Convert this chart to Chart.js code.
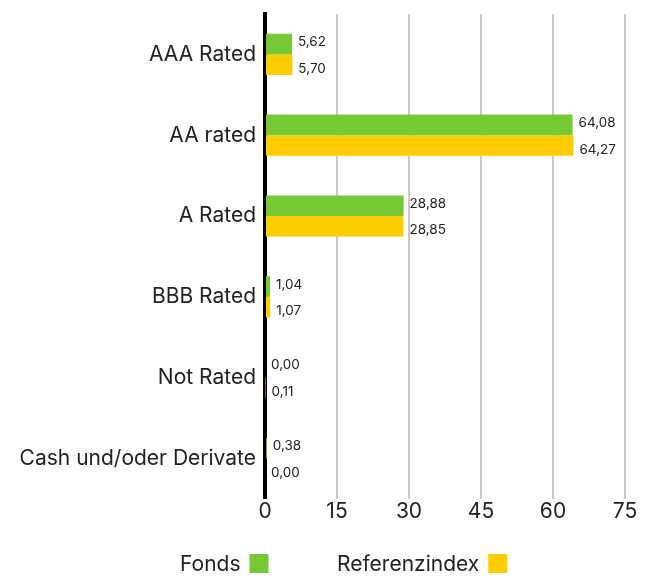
<!DOCTYPE html>
<html>
<head>
<meta charset="utf-8">
<script src="https://cdn.jsdelivr.net/npm/chart.js@4"></script>
<style>
  html, body { margin: 0; padding: 0; background: #fff; }
  #wrap { width: 651px; height: 576px; }
</style>
</head>
<body>
<div id="wrap"><canvas id="myChart"></canvas></div>
<script>
var categories = ["AAA Rated", "AA rated", "A Rated", "BBB Rated", "Not Rated", "Cash und/oder Derivate"];
var fonds = [5.62, 64.08, 28.88, 1.04, 0.00, 0.38];
var referenz = [5.70, 64.27, 28.85, 1.07, 0.11, 0.00];
var xTicks = [0, 15, 30, 45, 60, 75];

var FONT = "Inter, 'Noto Sans', sans-serif";
var GREEN = '#76c935';
var YELLOW = '#ffcc00';

// value labels at the end of each bar
var barLabels = {
  id: 'barLabels',
  afterDatasetsDraw: function(chart) {
    var ctx = chart.ctx;
    var shift = [-2, 4];
    ctx.save();
    ctx.font = '13.5px ' + FONT;
    ctx.fillStyle = '#222';
    ctx.textAlign = 'left';
    ctx.textBaseline = 'middle';
    chart.data.datasets.forEach(function(ds, i) {
      chart.getDatasetMeta(i).data.forEach(function(bar, j) {
        ctx.fillText(ds.data[j].toFixed(2).replace('.', ','), bar.x + 6, bar.y + shift[i]);
      });
    });
    ctx.restore();
  }
};

// legend below the axis: text first, colour square after it
var bottomLegend = {
  id: 'bottomLegend',
  afterDraw: function(chart) {
    var ctx = chart.ctx;
    var starts = [180, 337];
    ctx.save();
    ctx.font = '21px ' + FONT;
    ctx.textBaseline = 'middle';
    ctx.textAlign = 'left';
    chart.data.datasets.forEach(function(ds, i) {
      var x = starts[i];
      var y = 565;
      ctx.fillStyle = '#222';
      ctx.fillText(ds.label, x, y);
      var w = ctx.measureText(ds.label).width;
      ctx.fillStyle = ds.backgroundColor;
      ctx.fillRect(x + w + 9, y - 11, 19, 19);
    });
    ctx.restore();
  }
};

var ctx = document.getElementById('myChart').getContext('2d');
var chart = new Chart(ctx, {
  type: 'bar',
  data: {
    labels: categories,
    datasets: [{
      label: 'Fonds',
      data: fonds,
      backgroundColor: GREEN
    }, {
      label: 'Referenzindex',
      data: referenz,
      backgroundColor: YELLOW
    }]
  },
  options: {
    indexAxis: 'y',
    responsive: true,
    maintainAspectRatio: false,
    animation: false,
    layout: {
      padding: { left: 0, right: 26, top: 14, bottom: 52 }
    },
    datasets: {
      bar: { categoryPercentage: 0.51, barPercentage: 1.0 }
    },
    scales: {
      x: {
        min: 0,
        max: 75,
        afterBuildTicks: function(scale) {
          scale.ticks = xTicks.map(function(v) { return { value: v }; });
        },
        grid: { color: '#c8c8c8', lineWidth: 2, drawTicks: false },
        border: { display: false },
        ticks: {
          color: '#222',
          padding: 0,
          font: { family: FONT, size: 21 }
        }
      },
      y: {
        afterFit: function(scale) {
          scale.width = 265;
          scale.paddingTop = 0;
          scale.paddingBottom = 0;
        },
        grid: { display: false, drawTicks: false },
        border: { color: '#000', width: 4 },
        ticks: {
          color: '#222',
          padding: 9,
          font: { family: FONT, size: 21 }
        }
      }
    },
    plugins: {
      legend: { display: false },
      tooltip: { enabled: false }
    }
  },
  plugins: [barLabels, bottomLegend]
});
</script>
</body>
</html>
